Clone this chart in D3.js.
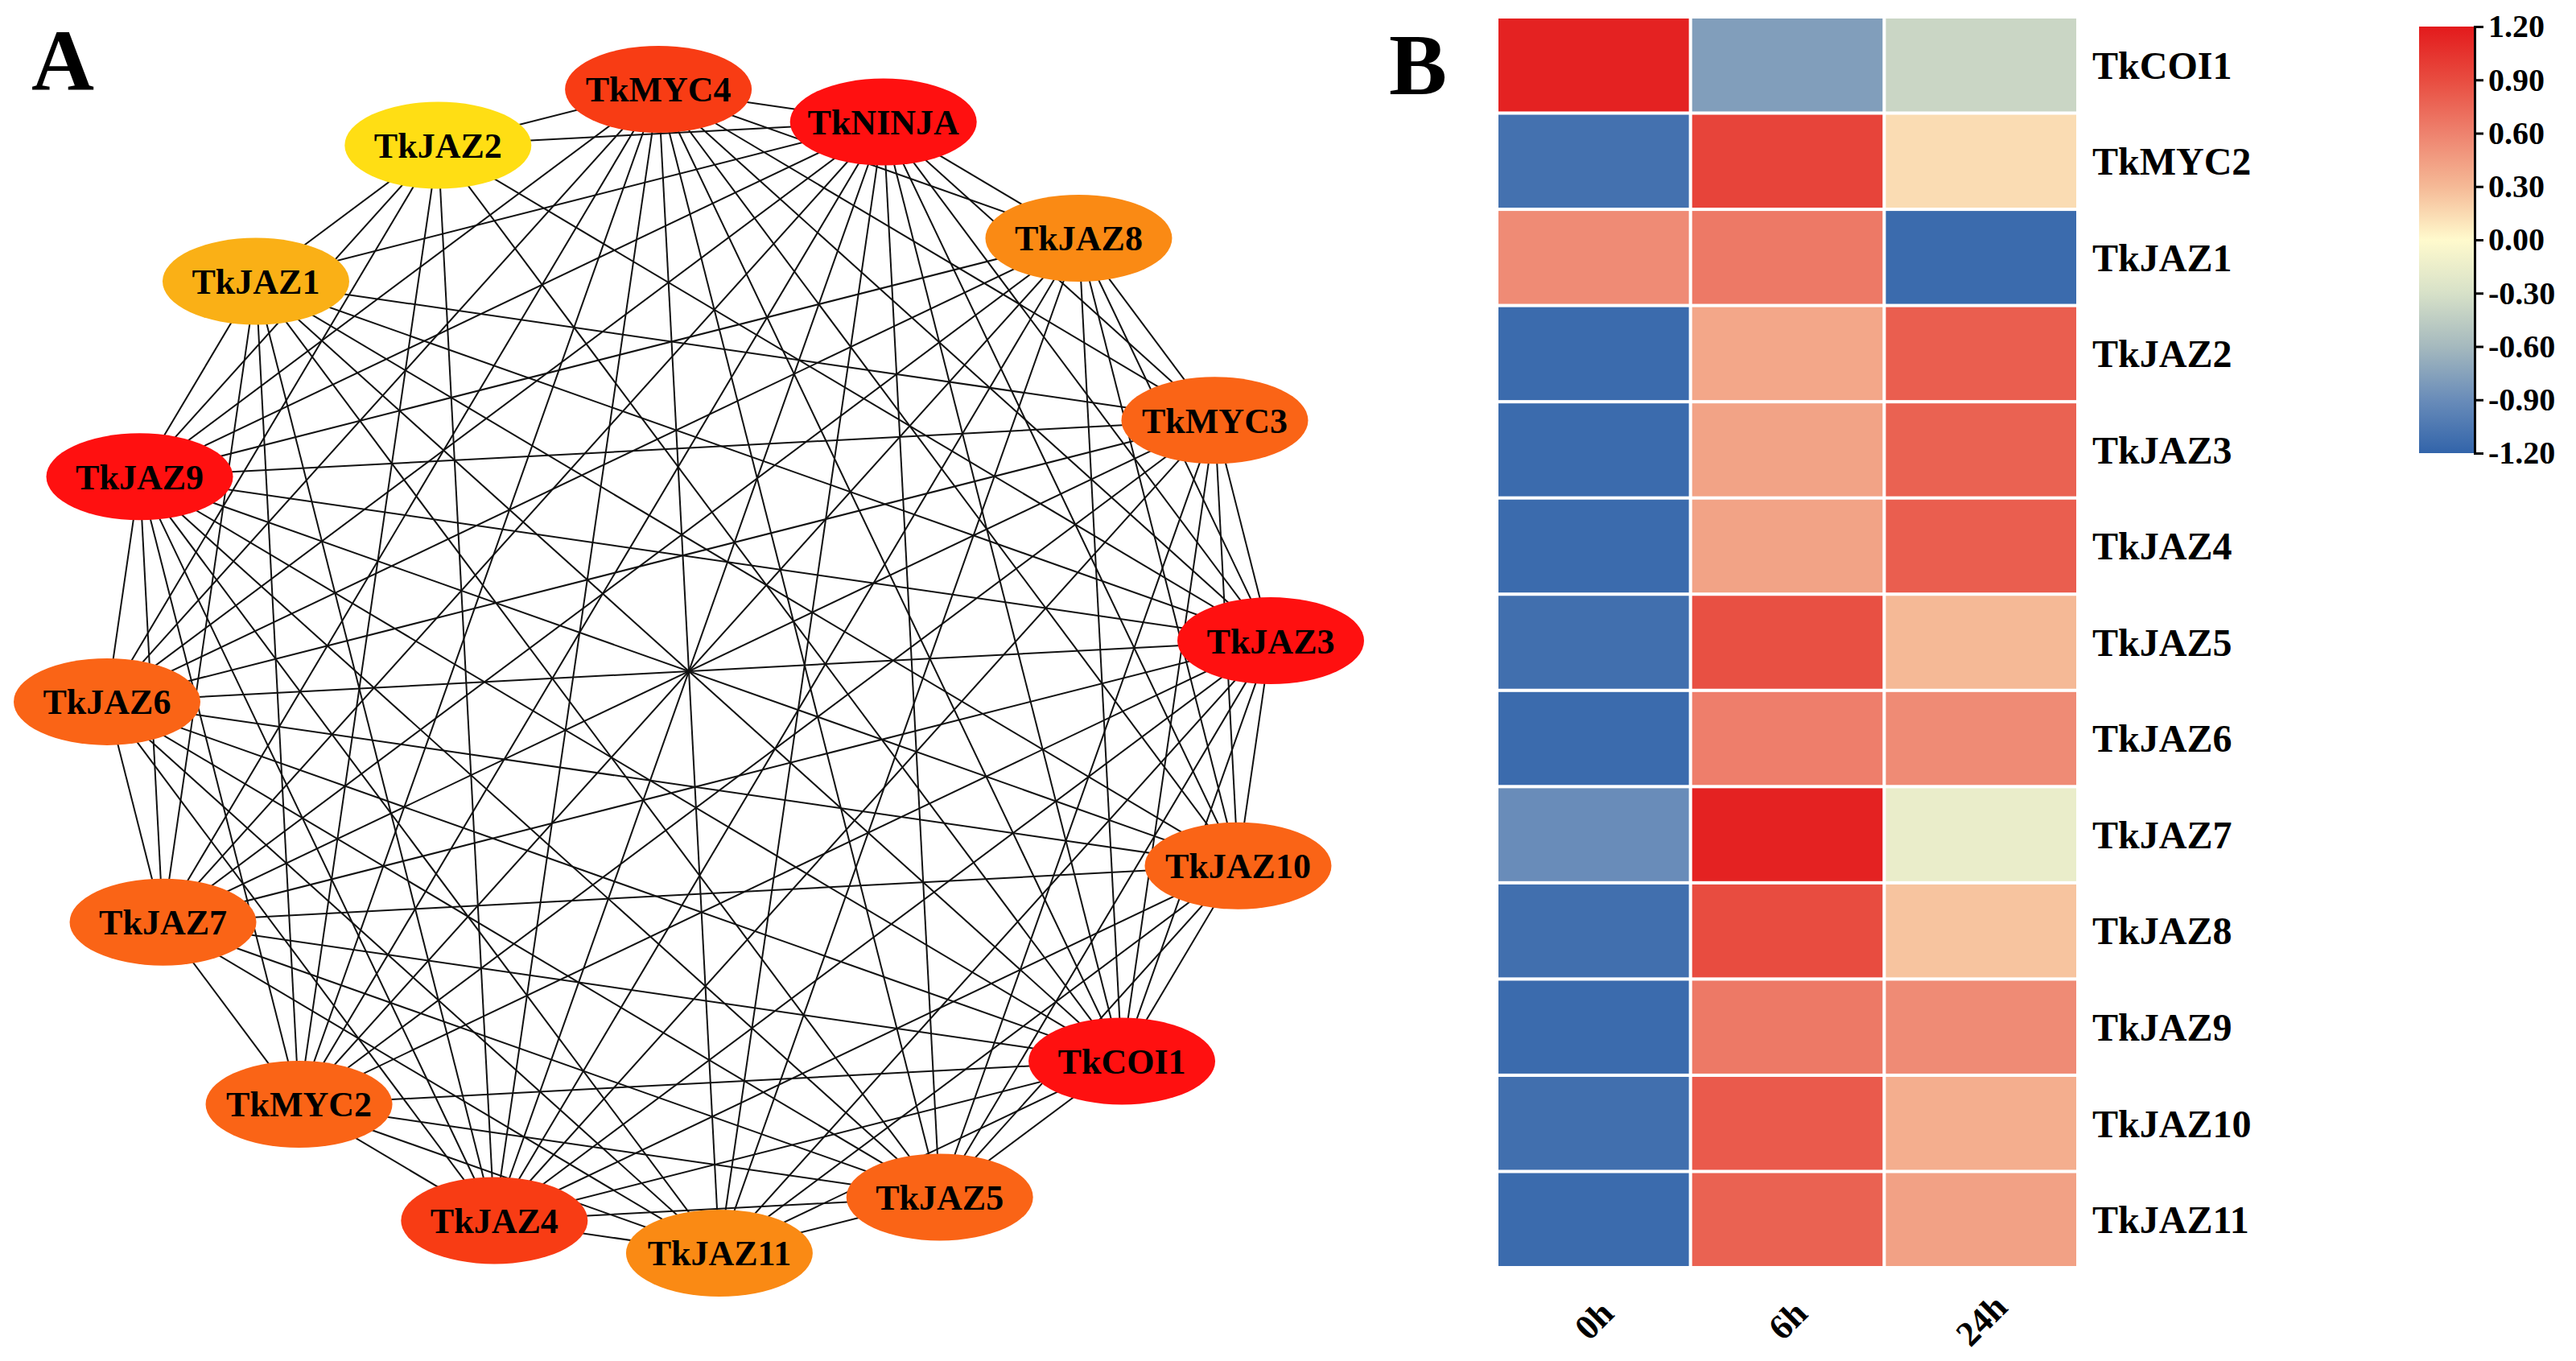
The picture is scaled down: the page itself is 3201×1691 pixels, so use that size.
<!DOCTYPE html>
<html>
<head>
<meta charset="utf-8">
<script src="https://cdn.jsdelivr.net/npm/d3@7"></script>
<style>
  body { margin: 0; background: #fff; }
  text { font-family: "Liberation Serif", "Times New Roman", serif; font-weight: bold; }
</style>
</head>
<body>
<div id="chart"></div>
<script>
// ---- panel A: interaction network ----
const nodes = [
  "TkMYC4", "TkNINJA", "TkJAZ8", "TkMYC3", "TkJAZ3", "TkJAZ10", "TkCOI1", "TkJAZ5",
  "TkJAZ11", "TkJAZ4", "TkMYC2", "TkJAZ7", "TkJAZ6", "TkJAZ9", "TkJAZ1", "TkJAZ2",
];

// pairs with no interaction line (every other pair is linked)
const absentLinks = [
  ["TkJAZ2", "TkJAZ8"], ["TkJAZ2", "TkMYC3"], ["TkJAZ2", "TkJAZ10"],
  ["TkJAZ2", "TkJAZ5"], ["TkJAZ2", "TkJAZ11"], ["TkJAZ2", "TkJAZ7"],
  ["TkJAZ1", "TkMYC4"], ["TkJAZ1", "TkJAZ8"], ["TkJAZ1", "TkJAZ11"],
  ["TkJAZ1", "TkJAZ6"], ["TkJAZ8", "TkJAZ5"], ["TkJAZ11", "TkMYC3"],
  ["TkJAZ10", "TkMYC2"], ["TkJAZ7", "TkJAZ4"], ["TkJAZ6", "TkMYC2"],
];

// ---- panel B: heatmap ----
const genes = [
  "TkCOI1", "TkMYC2", "TkJAZ1", "TkJAZ2", "TkJAZ3", "TkJAZ4", "TkJAZ5",
  "TkJAZ6", "TkJAZ7", "TkJAZ8", "TkJAZ9", "TkJAZ10", "TkJAZ11",
];
const times = ["0h", "6h", "24h"];
const values0h = [1.15, -1.1, 0.55, -1.15, -1.15, -1.15, -1.12, -1.15, -0.9, -1.12, -1.15, -1.12, -1.15];
const values6h = [-0.78, 0.95, 0.65, 0.4, 0.42, 0.42, 0.88, 0.62, 1.15, 0.9, 0.65, 0.82, 0.78];
const values24h = [-0.38, 0.14, -1.15, 0.8, 0.78, 0.8, 0.3, 0.55, -0.16, 0.25, 0.55, 0.36, 0.43];

const legendTicks = [-1.2, -0.9, -0.6, -0.3, 0, 0.3, 0.6, 0.9, 1.2];
const legendColors = [
  "#3264aa", "#698cb9", "#a5b9be", "#d7e1c8", "#fffacd",
  "#f5b996", "#ee826e", "#e84c40", "#e31a1c",
];

const W = 3201, H = 1691;

const svg = d3.select("#chart")
  .append("svg")
  .attr("width", W)
  .attr("height", H);

// panel letters
svg.append("text").attr("x", 39).attr("y", 112).style("font-size", "108px").text("A");
svg.append("text").attr("x", 1726).attr("y", 117).style("font-size", "108px").text("B");

// ===== network =====
const cx = 856, cy = 834, R = 724;
const angle = d3.scaleLinear().domain([0, nodes.length]).range([-3, 357]);
const pos = {};
nodes.forEach((n, i) => {
  const a = (angle(i) * Math.PI) / 180;
  pos[n] = { x: cx + R * Math.sin(a), y: cy - R * Math.cos(a) };
});

const absent = new Set(absentLinks.map((p) => p.slice().sort().join("|")));
const links = [];
for (let i = 0; i < nodes.length; i++) {
  for (let j = i + 1; j < nodes.length; j++) {
    const key = [nodes[i], nodes[j]].sort().join("|");
    if (!absent.has(key)) links.push({ source: nodes[i], target: nodes[j] });
  }
}

const degree = {};
nodes.forEach((n) => (degree[n] = 0));
links.forEach((l) => {
  degree[l.source]++;
  degree[l.target]++;
});

const degColor = d3.scaleLinear()
  .domain([9, 11, 12, 13, 14, 15])
  .range(["#ffde14", "#fab016", "#fa8a14", "#fa6416", "#f83c14", "#ff1010"])
  .clamp(true);

const net = svg.append("g");

net.selectAll("line")
  .data(links)
  .enter()
  .append("line")
  .attr("x1", (d) => pos[d.source].x)
  .attr("y1", (d) => pos[d.source].y)
  .attr("x2", (d) => pos[d.target].x)
  .attr("y2", (d) => pos[d.target].y)
  .style("stroke", "#111")
  .style("stroke-width", 2);

const node = net.selectAll(".node")
  .data(nodes)
  .enter()
  .append("g")
  .attr("class", "node")
  .attr("transform", (d) => `translate(${pos[d].x}, ${pos[d].y})`);

node.append("ellipse")
  .attr("rx", 116)
  .attr("ry", 54)
  .style("fill", (d) => degColor(degree[d]));

node.append("text")
  .attr("text-anchor", "middle")
  .attr("dy", "0.35em")
  .style("font-size", "44px")
  .style("fill", "#000")
  .text((d) => d);

// ===== heatmap =====
const x = d3.scaleBand().domain(times).range([1862, 2580]).paddingInner(0.017);
const y = d3.scaleBand().domain(genes).range([23, 1573]).paddingInner(0.034);

const color = d3.scaleLinear().domain(legendTicks).range(legendColors).clamp(true);

const cells = [];
genes.forEach((g, i) => {
  cells.push({ gene: g, time: "0h", value: values0h[i] });
  cells.push({ gene: g, time: "6h", value: values6h[i] });
  cells.push({ gene: g, time: "24h", value: values24h[i] });
});

svg.append("g")
  .selectAll("rect")
  .data(cells)
  .enter()
  .append("rect")
  .attr("x", (d) => x(d.time))
  .attr("y", (d) => y(d.gene))
  .attr("width", x.bandwidth())
  .attr("height", y.bandwidth())
  .style("fill", (d) => color(d.value));

// row labels
svg.append("g")
  .selectAll("text")
  .data(genes)
  .enter()
  .append("text")
  .attr("x", 2600)
  .attr("y", (d) => y(d) + y.bandwidth() / 2)
  .attr("dy", "0.35em")
  .style("font-size", "48px")
  .text((d) => d);

// column labels, rotated
svg.append("g")
  .selectAll("text")
  .data(times)
  .enter()
  .append("text")
  .attr("transform", (d) => `translate(${x(d) + x.bandwidth() / 2}, 1640) rotate(-45)`)
  .attr("text-anchor", "middle")
  .attr("dy", "0.35em")
  .style("font-size", "44px")
  .text((d) => d);

// ===== colour bar =====
const defs = svg.append("defs");
const grad = defs.append("linearGradient")
  .attr("id", "cbar")
  .attr("x1", 0).attr("y1", 1)
  .attr("x2", 0).attr("y2", 0);
grad.selectAll("stop")
  .data(legendTicks)
  .enter()
  .append("stop")
  .attr("offset", (d, i) => i / (legendTicks.length - 1))
  .attr("stop-color", (d) => color(d));

const ly = d3.scaleLinear().domain([-1.2, 1.2]).range([563, 33]);

svg.append("rect")
  .attr("x", 3006)
  .attr("y", ly(1.2))
  .attr("width", 68)
  .attr("height", ly(-1.2) - ly(1.2))
  .style("fill", "url(#cbar)");

const fmt = d3.format(".2f");
const axis = svg.append("g")
  .attr("transform", "translate(3075, 0)")
  .call(
    d3.axisRight(ly)
      .tickValues(legendTicks)
      .tickSize(11)
      .tickPadding(6)
      .tickFormat((d) => fmt(d).replace("\u2212", "-"))
  );
axis.selectAll("path, line").style("stroke", "#000").style("stroke-width", 3);
axis.selectAll("text")
  .style("font-size", "40px")
  .style("font-family", "'Liberation Serif', 'Times New Roman', serif")
  .style("font-weight", "bold")
  .style("fill", "#000");
</script>
</body>
</html>
